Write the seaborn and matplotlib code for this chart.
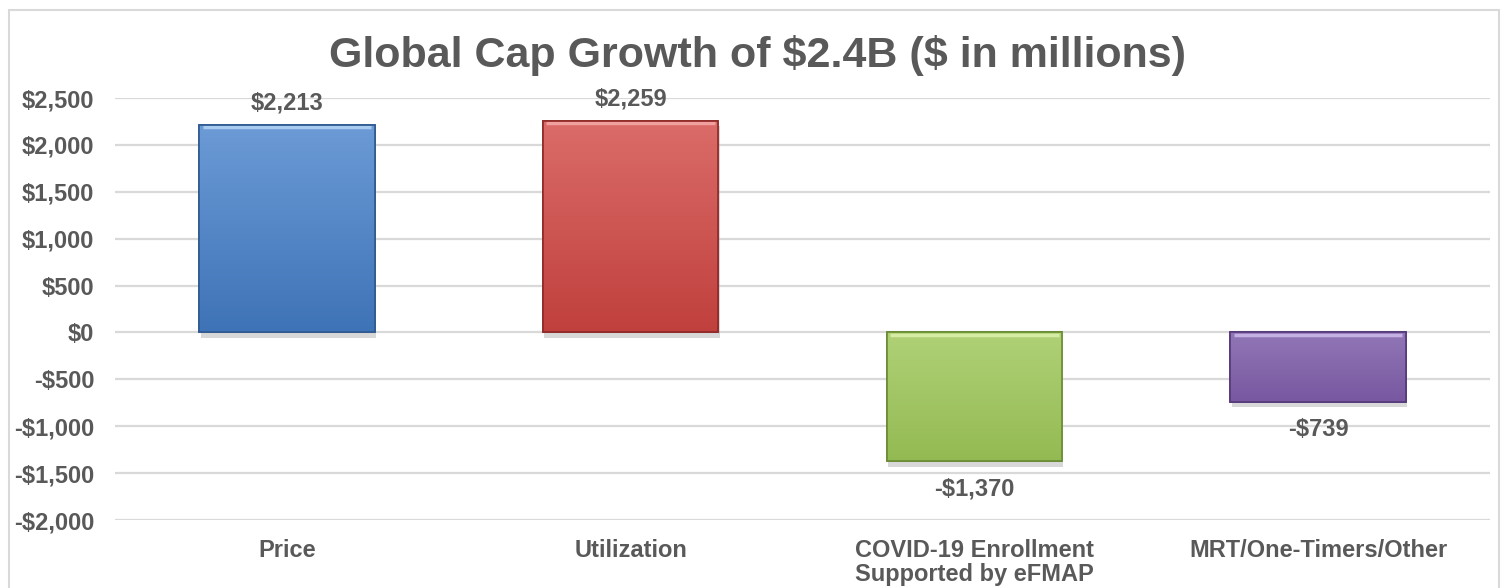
import numpy as np
import pandas as pd
import matplotlib
matplotlib.use("Agg")
import matplotlib.pyplot as plt
import matplotlib.patheffects as pe
from matplotlib.colors import LinearSegmentedColormap
from matplotlib.patches import Rectangle
import seaborn as sns

# chart data
categories = ["Price", "Utilization", "COVID-19 Enrollment\nSupported by eFMAP", "MRT/One-Timers/Other"]
values = [2213, 2259, -1370, -739]
value_labels = ["\\$2,213", "\\$2,259", "-\\$1,370", "-\\$739"]
y_ticks = [-2000, -1500, -1000, -500, 0, 500, 1000, 1500, 2000, 2500]
title = "Global Cap Growth of \\$2.4B (\\$ in millions)"

# (light, dark) colours for each bar gradient
bar_colors = [("#6C9BD6", "#3E73B7"), ("#DB6C69", "#C0403D"),
              ("#B0D177", "#93BA52"), ("#9177B7", "#7857A0")]
edge_colors = ["#2F5A8F", "#8E2A28", "#6A8A35", "#55397A"]
top_colors = ["#A9CBF0", "#F0A09E", "#D6EBA4", "#C5B0E3"]

sns.set_style("white")
plt.rcParams["font.family"] = ["Liberation Sans", "DejaVu Sans"]
text_color = "#595959"

df = pd.DataFrame({"category": categories, "value": values})

fig = plt.figure(figsize=(15.02, 5.88), dpi=100)
ax = fig.add_axes([0.0766, 0.1156, 0.9154, 0.7177])

sns.barplot(data=df, x="category", y="value", hue="category",
            palette=[c[0] for c in bar_colors], legend=False,
            width=0.51, ax=ax, zorder=3)

ax.set_ylim(-2000, 2500)
ax.set_yticks(y_ticks)
ax.set_yticklabels([("-\\$" if v < 0 else "\\$") + f"{abs(v):,}" for v in y_ticks])
ax.yaxis.grid(True, color="#D9D9D9", linewidth=1.6, zorder=0)
ax.set_axisbelow(True)
for s in ax.spines.values():
    s.set_visible(False)
ax.tick_params(axis="y", length=0, labelsize=17, labelcolor=text_color, pad=15)
ax.tick_params(axis="x", length=0, labelsize=17, labelcolor=text_color, pad=14)
for lab in ax.get_xticklabels() + ax.get_yticklabels():
    lab.set_fontweight("bold")
    lab.set_linespacing(1.05)
ax.set_xlabel("")
ax.set_ylabel("")
ax.set_xlim(-0.5, 3.5)

# gradient fill, edge, top highlight and shadow on each bar
for patch, (light, dark), ec, tc in zip(ax.patches, bar_colors, edge_colors, top_colors):
    x0, y0 = patch.get_x(), patch.get_y()
    w, h = patch.get_width(), patch.get_height()
    y_lo, y_hi = min(y0, y0 + h), max(y0, y0 + h)
    cmap = LinearSegmentedColormap.from_list("g", [dark, light])
    grad = np.linspace(0, 1, 256).reshape(-1, 1)
    im = ax.imshow(grad, cmap=cmap, aspect="auto", origin="lower",
                   extent=[x0, x0 + w, y_lo, y_hi], zorder=4)
    im.set_clip_path(patch)
    patch.set_edgecolor(ec)
    patch.set_linewidth(1.2)
    patch.set_path_effects([pe.SimplePatchShadow(offset=(1, -4), shadow_rgbFace="#aaaaaa", alpha=0.45),
                            pe.Normal()])
    ax.plot([x0 + 0.01, x0 + w - 0.01], [y_hi - 25, y_hi - 25], color=tc,
            linewidth=2.5, solid_capstyle="butt", zorder=5)
    edge = Rectangle((x0, y_lo), w, y_hi - y_lo, fill=False, edgecolor=ec,
                     linewidth=1.2, zorder=6)
    ax.add_patch(edge)

# value labels
for i, (v, lab) in enumerate(zip(values, value_labels)):
    off = 235 if v >= 0 else -300
    ax.text(i, v + off, lab, ha="center", va="center", fontsize=17,
            fontweight="bold", color=text_color)

fig.text(0.504, 0.905, title, ha="center", va="center", fontsize=31,
         fontweight="bold", color=text_color)

# outer chart border
fig.patches.append(Rectangle((9 / 1502, -0.01), 1490 / 1502, 1 - 10 / 588 + 0.01,
                             transform=fig.transFigure, fill=False,
                             edgecolor="#D9D9D9", linewidth=1.5))

fig.savefig("out.png", dpi=100, facecolor="white")
